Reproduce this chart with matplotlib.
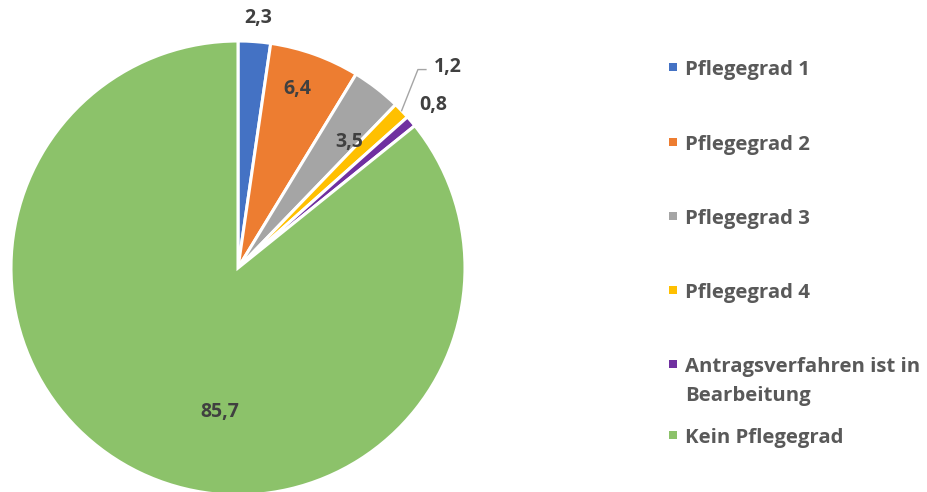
import numpy as np
import matplotlib.pyplot as plt
from matplotlib.patches import Rectangle

# Data
labels = ["Pflegegrad 1", "Pflegegrad 2", "Pflegegrad 3", "Pflegegrad 4",
          "Antragsverfahren ist in\nBearbeitung", "Kein Pflegegrad"]
values = [2.3, 6.4, 3.5, 1.2, 0.8, 85.7]
value_text = ["2,3", "6,4", "3,5", "1,2", "0,8", "85,7"]
colors = ["#4472C4", "#ED7D31", "#A5A5A5", "#FFC000", "#7030A0", "#8CC26A"]

# label placement (radius factor, angle offset in degrees from slice middle)
label_r = [1.105, 0.83, 0.74, 1.28, 1.12, 0.64]
label_dang = [-0.5, 1.5, -4, 0, -0.5, 18.2]

plt.rcParams['font.family'] = ['Open Sans', 'DejaVu Sans']

fig = plt.figure(figsize=(9.27, 4.92), dpi=100)
W, H = 927, 492
cx, cy, R = 238, 268, 227
ax = fig.add_axes([(cx - R) / W, (H - cy - R) / H, 2 * R / W, 2 * R / H])

wedges, _ = ax.pie(values, colors=colors, startangle=90, counterclock=False,
                   radius=1, center=(0, 0),
                   wedgeprops=dict(edgecolor='white', linewidth=2.2))
ax.set_xlim(-1, 1)
ax.set_ylim(-1, 1)
ax.set_aspect('equal')
ax.axis('off')

total = sum(values)
cum = np.cumsum([0] + values)
for i, v in enumerate(values):
    mid = 90 - 360 * (cum[i] + v / 2) / total + label_dang[i]
    a = np.deg2rad(mid)
    r = label_r[i]
    ax.text(r * np.cos(a), r * np.sin(a), value_text[i], ha='center', va='center',
            fontsize=14, fontweight='bold', color='#404040', clip_on=False)

# leader line for Pflegegrad 4
mid4 = np.deg2rad(90 - 360 * (cum[3] + values[3] / 2) / total)
p0 = (1.0 * np.cos(mid4), 1.0 * np.sin(mid4))
a1 = np.deg2rad(47.8)
p1 = (1.18 * np.cos(a1), 1.18 * np.sin(a1))
p2 = (p1[0] + 8 / R, p1[1])
ax.plot([p0[0], p1[0], p2[0]], [p0[1], p1[1], p2[1]], color='#A5A5A5',
        linewidth=1, clip_on=False)

# legend (baseline of first line of each entry, in pixels from top)
leg_base = [75, 150, 224, 298, 372, 443]
for i, lab in enumerate(labels):
    y = leg_base[i]
    fig.patches.append(Rectangle((669 / W, (H - y + 4.5) / H), 8 / W, 8 / H,
                                 facecolor=colors[i], edgecolor='none',
                                 transform=fig.transFigure, figure=fig))
    lines = lab.split("\n")
    for j, line in enumerate(lines):
        fig.text(685 / W, (H - y - 29 * j) / H, line, ha='left', va='baseline',
                 fontsize=14.7, fontweight='bold', color='#595959')

fig.savefig("out.png", dpi=100)
